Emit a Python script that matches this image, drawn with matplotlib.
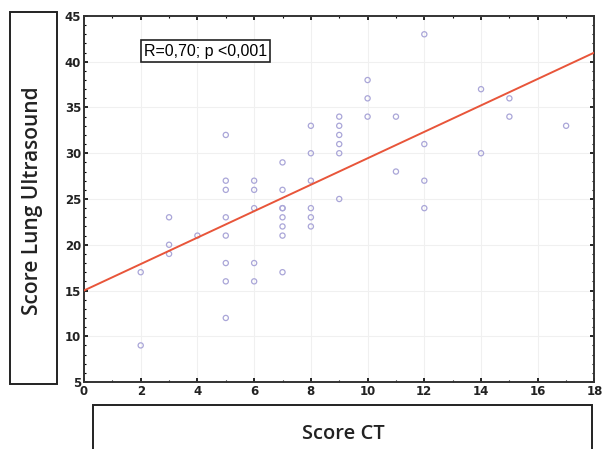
import numpy as np
import matplotlib.pyplot as plt
from matplotlib.patches import Rectangle
from matplotlib.ticker import MultipleLocator

# CT score vs lung ultrasound score
ct = [2, 2,
      3, 3, 3,
      4,
      5, 5, 5, 5, 5, 5, 5, 5,
      6, 6, 6, 6, 6,
      7, 7, 7, 7, 7, 7, 7, 7,
      8, 8, 8, 8, 8, 8,
      9, 9, 9, 9, 9, 9,
      10, 10, 10,
      11, 11,
      12, 12, 12, 12,
      14, 14,
      15, 15,
      17]
lus = [17, 9,
       23, 20, 19,
       21,
       32, 27, 26, 23, 21, 18, 16, 12,
       27, 26, 24, 18, 16,
       29, 26, 24, 24, 23, 22, 21, 17,
       33, 30, 27, 24, 23, 22,
       34, 33, 32, 31, 30, 25,
       38, 36, 34,
       34, 28,
       43, 31, 27, 24,
       37, 30,
       36, 34,
       33]
fit_intercept = 15.0
fit_slope = 1.445
annot = "R=0,70; p <0,001"

fig = plt.figure(figsize=(6.02, 4.49), dpi=100)
ax = fig.add_axes([0.1395, 0.1492, 0.848, 0.8152])

ax.scatter(ct, lus, s=14, facecolors="none", edgecolors="#aaa6d8", linewidths=0.9, zorder=3)
xs = np.array([0, 18])
ax.plot(xs, fit_intercept + fit_slope * xs, color="#e8553a", lw=1.4, zorder=4)

ax.set_xlim(0, 18)
ax.set_ylim(5, 45)
ax.xaxis.set_major_locator(MultipleLocator(2))
ax.xaxis.set_minor_locator(MultipleLocator(1))
ax.yaxis.set_major_locator(MultipleLocator(5))
ax.yaxis.set_minor_locator(MultipleLocator(1))
ax.tick_params(which="both", direction="in", top=True, right=True, labelsize=8.5, pad=2)
ax.tick_params(which="major", length=3, width=1.2)
ax.tick_params(which="minor", length=1.5, width=0.8)
for lab in ax.get_xticklabels() + ax.get_yticklabels():
    lab.set_fontweight("bold")
    lab.set_color("#222222")
for s in ax.spines.values():
    s.set_linewidth(1.4)
    s.set_color("#333333")
ax.grid(True, color="#f0f0f0", lw=0.8, zorder=0)

ax.text(0.238, 0.904, annot, transform=ax.transAxes, ha="center", va="center",
        fontsize=11.5, family="Liberation Sans",
        bbox=dict(boxstyle="square,pad=0.2", fc="white", ec="#222222", lw=1.2))

# label boxes drawn in figure pixels
W, H = 602, 449
fig.patches.append(Rectangle((10 / W, 1 - 384 / H), 47 / W, 372 / H, transform=fig.transFigure,
                             fill=False, ec="#222222", lw=1.4))
fig.text(33 / W, 1 - 201 / H, "Score Lung Ultrasound", rotation=90, ha="center", va="center",
         fontsize=15, family="Open Sans", fontweight="semibold", color="#222222")
fig.patches.append(Rectangle((93 / W, -0.05), 499 / W, 0.05 + 1 - 405 / H, transform=fig.transFigure,
                             fill=False, ec="#222222", lw=1.4))
fig.text(343 / W, 1 - 434 / H, "Score CT", ha="center", va="center",
         fontsize=14.5, family="Open Sans", fontweight="semibold", color="#222222")

fig.savefig("out.png", dpi=100)
